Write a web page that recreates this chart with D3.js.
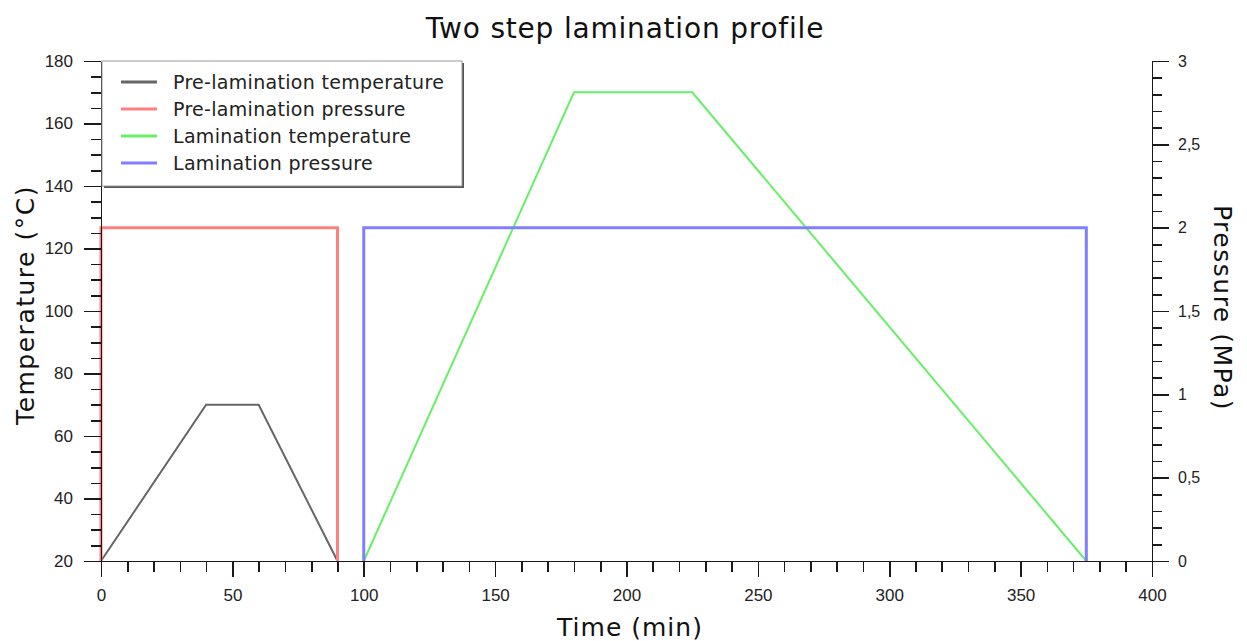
<!DOCTYPE html>
<html>
<head>
<meta charset="utf-8">
<script src="https://cdn.jsdelivr.net/npm/d3@7"></script>
<style>
  body { margin: 0; background: #fff; }
  svg { display: block; font-family: "DejaVu Sans", Verdana, sans-serif; }
  .axis path, .axis line { stroke: #1a1a1a; stroke-width: 1.6; shape-rendering: crispEdges; }
  .axis text { fill: #222; }
</style>
</head>
<body>
<svg id="chart"></svg>
<script>
// time in minutes, temperature in degC, pressure in MPa
const preLamTemp = [
  { t: 0, v: 20 }, { t: 40, v: 70 }, { t: 60, v: 70 }, { t: 90, v: 20 }
];
const preLamPress = [
  { t: 0, v: 0 }, { t: 0, v: 2 }, { t: 90, v: 2 }, { t: 90, v: 0 }
];
const lamTemp = [
  { t: 100, v: 20 }, { t: 180, v: 170 }, { t: 225, v: 170 }, { t: 375, v: 20 }
];
const lamPress = [
  { t: 100, v: 0 }, { t: 100, v: 2 }, { t: 375, v: 2 }, { t: 375, v: 0 }
];

const seriesNames = [
  "Pre-lamination temperature",
  "Pre-lamination pressure",
  "Lamination temperature",
  "Lamination pressure"
];
const seriesColors = ["#666666", "#ff7f7f", "#66f066", "#7f7fff"];

const timeTicks = [0, 50, 100, 150, 200, 250, 300, 350, 400];
const tempTicks = [20, 40, 60, 80, 100, 120, 140, 160, 180];
const pressTicks = [0, 0.5, 1, 1.5, 2, 2.5, 3];

const width = 1247;
const height = 641;
const margin = { top: 61, right: 95, bottom: 80, left: 101 };

const svg = d3.select("#chart").attr("width", width).attr("height", height);

const x = d3.scaleLinear().domain([0, 400]).range([margin.left, width - margin.right]);
const yT = d3.scaleLinear().domain([20, 180]).range([height - margin.bottom, margin.top]);
const yP = d3.scaleLinear().domain([0, 3]).range([height - margin.bottom, margin.top]);

// Lines
const lineT = d3.line().x(d => x(d.t)).y(d => yT(d.v));
const lineP = d3.line().x(d => x(d.t)).y(d => yP(d.v));

const series = [
  { data: preLamTemp, line: lineT, w: 2 },
  { data: preLamPress, line: lineP, w: 3 },
  { data: lamTemp, line: lineT, w: 2 },
  { data: lamPress, line: lineP, w: 3 }
];

series.forEach((s, i) => {
  svg.append("path")
    .datum(s.data)
    .attr("fill", "none")
    .attr("stroke", seriesColors[i])
    .attr("stroke-width", s.w)
    .attr("stroke-linejoin", "miter")
    .attr("d", s.line);
});

// Axes: minor ticks first, then majors with labels
const bottomY = height - margin.bottom;

svg.append("g").attr("class", "axis")
  .attr("transform", `translate(0,${bottomY})`)
  .call(d3.axisBottom(x).tickValues(d3.range(0, 401, 10)).tickSize(11).tickSizeOuter(0).tickFormat(""));
svg.append("g").attr("class", "axis")
  .attr("transform", `translate(0,${bottomY})`)
  .call(d3.axisBottom(x).tickValues(timeTicks).tickSize(16).tickSizeOuter(0).tickPadding(12))
  .call(g => g.selectAll("text").attr("font-size", 17));

svg.append("g").attr("class", "axis")
  .attr("transform", `translate(${margin.left},0)`)
  .call(d3.axisLeft(yT).tickValues(d3.range(20, 181, 5)).tickSize(10).tickSizeOuter(0).tickFormat(""));
svg.append("g").attr("class", "axis")
  .attr("transform", `translate(${margin.left},0)`)
  .call(d3.axisLeft(yT).tickValues(tempTicks).tickSize(17).tickSizeOuter(0).tickPadding(11))
  .call(g => g.selectAll("text").attr("font-size", 17));

const rightX = width - margin.right;
svg.append("g").attr("class", "axis")
  .attr("transform", `translate(${rightX},0)`)
  .call(d3.axisRight(yP).tickValues(d3.range(0, 31, 1).map(d => d / 10)).tickSize(10).tickSizeOuter(0).tickFormat(""));
svg.append("g").attr("class", "axis")
  .attr("transform", `translate(${rightX},0)`)
  .call(d3.axisRight(yP).tickValues(pressTicks).tickSize(17).tickSizeOuter(0).tickPadding(9)
    .tickFormat(d => String(d).replace(".", ",")))
  .call(g => g.selectAll("text").attr("font-size", 16));

// Titles
svg.append("text")
  .attr("x", 625).attr("y", 38)
  .attr("text-anchor", "middle")
  .attr("font-size", 28)
  .attr("letter-spacing", 0.8)
  .attr("fill", "#111")
  .text("Two step lamination profile");

svg.append("text")
  .attr("x", 630).attr("y", 636)
  .attr("text-anchor", "middle")
  .attr("font-size", 25)
  .attr("letter-spacing", 1)
  .attr("fill", "#111")
  .text("Time (min)");

svg.append("text")
  .attr("transform", "translate(34,305) rotate(-90)")
  .attr("text-anchor", "middle")
  .attr("font-size", 25)
  .attr("letter-spacing", 1.5)
  .attr("fill", "#111")
  .text("Temperature (°C)");

svg.append("text")
  .attr("transform", "translate(1214,308) rotate(90)")
  .attr("text-anchor", "middle")
  .attr("font-size", 25)
  .attr("letter-spacing", 1.5)
  .attr("fill", "#111")
  .text("Pressure (MPa)");

// Legend
const lg = svg.append("g").attr("transform", `translate(${margin.left + 1},${margin.top})`);
const lgW = 360, lgH = 125;
lg.append("rect")
  .attr("x", 2).attr("y", 2).attr("width", lgW).attr("height", lgH)
  .attr("fill", "#555");
lg.append("rect")
  .attr("x", 0).attr("y", 0).attr("width", lgW).attr("height", lgH)
  .attr("fill", "#fff").attr("stroke", "#9a9a9a").attr("stroke-width", 1);

seriesNames.forEach((name, i) => {
  const cy = 21 + i * 27;
  lg.append("line")
    .attr("x1", 19).attr("x2", 55).attr("y1", cy).attr("y2", cy)
    .attr("stroke", seriesColors[i]).attr("stroke-width", 3);
  lg.append("text")
    .attr("x", 71).attr("y", cy + 7)
    .attr("font-size", 19)
    .attr("letter-spacing", 0.3)
    .attr("fill", "#222")
    .text(name);
});
</script>
</body>
</html>
